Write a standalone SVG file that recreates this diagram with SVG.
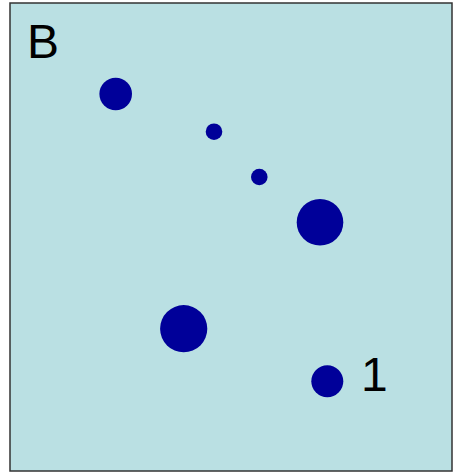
<svg xmlns="http://www.w3.org/2000/svg" width="454" height="473" viewBox="0 0 454 473">
<style>
.dot{fill:#000099}
.lbl{font-family:"Liberation Sans",Arial,sans-serif;font-size:48px;fill:#000}
</style>
<rect x="10" y="3" width="442" height="468" fill="#BAE0E3" stroke="#333" stroke-width="1.5"/>
<text class="lbl" x="27" y="58">B</text>
<g id="dots">
<circle id="d1" class="dot" cx="115.7" cy="94" r="16.3"/>
<circle id="d2" class="dot" cx="214" cy="131.7" r="8.3"/>
<circle id="d3" class="dot" cx="259.3" cy="177" r="8.3"/>
<circle id="d4" class="dot" cx="320" cy="222.3" r="23.3"/>
<circle id="d5" class="dot" cx="183.7" cy="328.7" r="23.6"/>
<circle id="d6" class="dot" cx="327.3" cy="381.3" r="16"/>
</g>
<text class="lbl" x="361" y="390.7">1</text>
</svg>
